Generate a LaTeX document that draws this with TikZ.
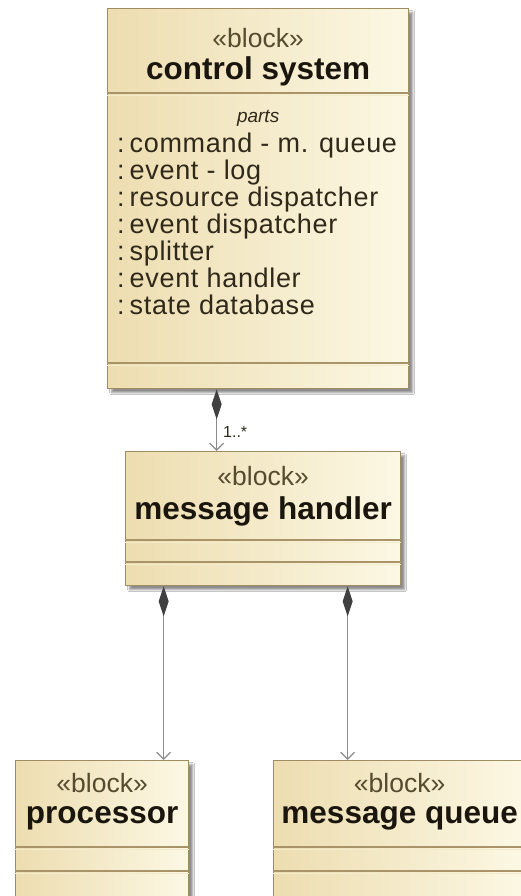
\documentclass[tikz,border=0pt]{standalone}
\usepackage{fontspec}
\setmainfont{Liberation Sans}
\newfontfamily\partsfont[LetterSpace=2.5]{Liberation Sans}
\usetikzlibrary{shadows.blur,arrows.meta}

\definecolor{blockedge}{HTML}{A08C62}
\definecolor{blockleft}{HTML}{EDDDB0}
\definecolor{blockright}{HTML}{FCF8E4}
\definecolor{sepdark}{HTML}{A89468}
\definecolor{seplight}{HTML}{F4EBCB}
\definecolor{stereoc}{HTML}{554B2E}
\definecolor{namec}{HTML}{1A160E}
\definecolor{itemc}{HTML}{30291A}
\definecolor{linkc}{HTML}{8C8C8C}
\definecolor{diamondc}{HTML}{404040}

\tikzset{
  x=1pt, y=-1pt,
  blockbox/.style={rectangle, draw=blockedge, line width=1.3pt,
    left color=blockleft, right color=blockright, inner sep=0pt,
    anchor=north west,
    blur shadow={shadow xshift=4pt, shadow yshift=-4pt,
      shadow blur steps=4, shadow blur radius=2pt, shadow opacity=45}},
  stereo/.style={text=stereoc, inner sep=0pt,
    font=\fontsize{26.5}{26.5}\selectfont},
  blockname/.style={text=namec, inner sep=0pt,
    font=\fontsize{31.5}{31.5}\selectfont\bfseries},
  sectitle/.style={text=itemc, inner sep=0pt,
    font=\fontsize{19}{19}\selectfont\itshape},
  partlist/.style={text=itemc, inner sep=0pt, anchor=north west, align=left,
    font=\partsfont\fontsize{27}{27}\selectfont},
  composite/.style={draw=linkc, line width=1.5pt,
    {Diamond[length=30pt, width=10pt, color=diamondc, fill=diamondc]}-{Straight Barb[length=7pt, width=14pt, line width=1.2pt]}},
  multlabel/.style={text=itemc, inner sep=0pt, anchor=west,
    font=\fontsize{16}{16}\selectfont},
}

\newcommand{\sepline}[3]{%
  \draw[sepdark, line width=1.4pt] ([yshift=-#2pt]#1.north west) -- ([yshift=-#2pt]#1.north east);
  \draw[seplight, line width=1.4pt] ([yshift=-#3pt]#1.north west) -- ([yshift=-#3pt]#1.north east);
}
\newcommand{\partitem}[1]{:\kern5pt #1}

\begin{document}
\begin{tikzpicture}
\useasboundingbox[fill=white] (0,0) rectangle (520,896);

% control system block
\node[blockbox, minimum width=301pt, minimum height=380pt] (cs) at (107,8) {};
\node[stereo] (csst) at ([yshift=-30pt]cs.north) {«block»};
\node[blockname] (csnm) at ([yshift=-63pt]cs.north) {control system};
\sepline{cs}{85}{87.5}
\node[sectitle] (csparts) at ([yshift=-110pt]cs.north) {parts};
\node[partlist] (csitems) at ([xshift=10pt, yshift=-125pt]cs.north west) {%
  \partitem{command - m. queue}\\
  \partitem{event - log}\\
  \partitem{resource dispatcher}\\
  \partitem{event dispatcher}\\
  \partitem{splitter}\\
  \partitem{event handler}\\
  \partitem{state database}};
\sepline{cs}{355}{357.5}

% message handler block
\node[blockbox, minimum width=275pt, minimum height=134pt] (mh) at (125,451) {};
\node[stereo] (mhst) at ([yshift=-25pt]mh.north) {«block»};
\node[blockname] (mhnm) at ([yshift=-60pt]mh.north) {message handler};
\sepline{mh}{89}{91.5}
\sepline{mh}{111}{113.5}

% processor block
\node[blockbox, minimum width=173pt, minimum height=145pt] (proc) at (15,760) {};
\node[stereo] (procst) at ([yshift=-23pt]proc.north) {«block»};
\node[blockname] (procnm) at ([yshift=-58pt]proc.north) {processor};
\sepline{proc}{87}{89.5}
\sepline{proc}{111}{113.5}

% message queue block
\node[blockbox, minimum width=252pt, minimum height=145pt] (mq) at (273,760) {};
\node[stereo] (mqst) at ([yshift=-23pt]mq.north) {«block»};
\node[blockname] (mqnm) at ([yshift=-58pt]mq.north) {message queue};
\sepline{mq}{87}{89.5}
\sepline{mq}{111}{113.5}

% composition links
\draw[composite] ([xshift=-41.5pt]cs.south) -- ([xshift=-46.5pt]mh.north);
\node[multlabel] (mult) at (223,432) {1..*};
\draw[composite] ([xshift=-99.5pt]mh.south) -- ([xshift=61.5pt]proc.north);
\draw[composite] ([xshift=84.5pt]mh.south) -- ([xshift=-52pt]mq.north);
\end{tikzpicture}
\end{document}
